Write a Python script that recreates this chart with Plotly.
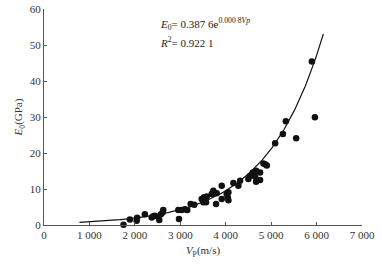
import numpy as np
import plotly.graph_objects as go

vp = [1750, 1890, 2040, 2050, 2220, 2370, 2405, 2440, 2515, 2537, 2574, 2611, 2625,
      2971, 2956, 3030, 3103, 3154, 3229, 3308, 3471, 3522, 3582, 3567, 3507,
      3692, 3727, 3802, 3787, 3912, 3912, 4022, 4059, 4045, 4059, 4169, 4279, 4316,
      4499, 4537, 4595, 4647, 4669, 4757, 4669, 4757, 4830, 4868, 4905, 5088,
      5258, 5324, 5551, 5963, 5897]
e0 = [0.1, 1.5, 1.2, 2.0, 3.0, 2.1, 2.4, 2.6, 2.3, 1.4, 3.0, 3.5, 4.2,
      1.7, 4.2, 4.2, 4.4, 4.2, 5.8, 5.6, 7.2, 7.7, 7.9, 6.3, 6.3,
      8.6, 9.5, 8.8, 5.8, 10.9, 7.2, 8.6, 9.1, 7.7, 6.9, 11.7, 10.9, 12.3,
      12.8, 13.7, 14.6, 13.4, 15.1, 14.6, 12.0, 12.5, 17.1, 16.9, 16.5, 22.7,
      25.3, 28.8, 24.1, 29.9, 45.4]

fit_a = 0.3876
fit_b = 0.0008
fit_range = [780, 6150]

x_ticks = [0, 1000, 2000, 3000, 4000, 5000, 6000, 7000]
x_ticktext = ["0", "1 000", "2 000", "3 000", "4 000", "5 000", "6 000", "7 000"]
y_ticks = [0, 10, 20, 30, 40, 50, 60]

xf = np.linspace(fit_range[0], fit_range[1], 200)
yf = fit_a * np.exp(fit_b * xf)

font = "Liberation Serif, Times New Roman, serif"

fig = go.Figure()
fig.add_trace(go.Scatter(x=xf, y=yf, mode="lines",
                         line=dict(color="#111111", width=1.2), cliponaxis=False))
fig.add_trace(go.Scatter(x=vp, y=e0, mode="markers",
                         marker=dict(color="#111111", size=6.5), cliponaxis=False))

fig.update_layout(
    width=382, height=265,
    margin=dict(l=44, r=20, t=9, b=40, autoexpand=False),
    paper_bgcolor="white", plot_bgcolor="white",
    showlegend=False,
    font=dict(family=font, size=11, color="#333333"),
    xaxis=dict(range=[0, 7000], tickvals=x_ticks, ticktext=x_ticktext, automargin=False,
               showgrid=False, zeroline=False, showline=True, linecolor="#555555",
               linewidth=1.2, ticks="inside", ticklen=3, tickcolor="#555555",
               tickfont=dict(family=font, size=11, color="#333333"),
               title=dict(text="<i>V</i><sub>P</sub>(m/s)", standoff=6,
                          font=dict(size=11, family=font, color="#333333"))),
    yaxis=dict(range=[0, 60], tickvals=y_ticks, automargin=False,
               showgrid=False, zeroline=False, showline=True, linecolor="#555555",
               linewidth=1.2, ticks="inside", ticklen=3, tickcolor="#555555",
               tickfont=dict(family=font, size=11, color="#333333"),
               title=dict(text="<i>E</i><sub>0</sub>(GPa)", standoff=4,
                          font=dict(size=11, family=font, color="#333333"))),
)

fig.add_annotation(xref="paper", yref="paper", x=0.358, y=0.93, xanchor="left", yanchor="middle",
                   text="<i>E</i><sub>0</sub>= 0.387 6e<sup>0.000 8<i>Vp</i></sup>",
                   showarrow=False, font=dict(family=font, size=11, color="#222222"))
fig.add_annotation(xref="paper", yref="paper", x=0.358, y=0.847, xanchor="left", yanchor="middle",
                   text="<i>R</i><sup>2</sup>= 0.922 1",
                   showarrow=False, font=dict(family=font, size=11, color="#222222"))

fig.write_html("out.html", post_script="document.body.style.margin='0';",
               config={"displayModeBar": False})
